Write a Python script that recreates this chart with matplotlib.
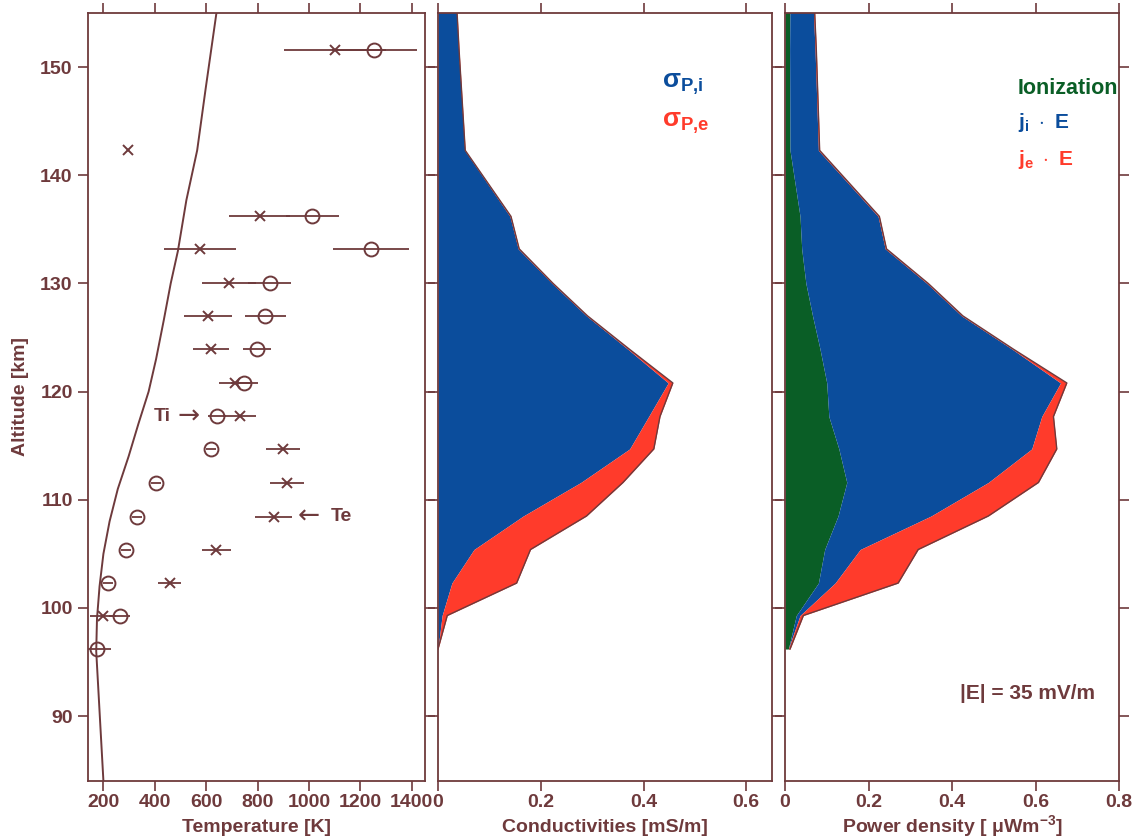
import matplotlib
matplotlib.use("Agg")
import matplotlib.pyplot as plt
import numpy as np

plt.rcParams['font.family'] = ['Liberation Sans', 'DejaVu Sans']
plt.rcParams['font.weight'] = 'bold'
plt.rcParams['mathtext.fontset'] = 'custom'
plt.rcParams['mathtext.rm'] = 'Liberation Sans:bold'
plt.rcParams['mathtext.bf'] = 'Liberation Sans:bold'
plt.rcParams['mathtext.it'] = 'Liberation Sans:bold'
plt.rcParams['mathtext.sf'] = 'Liberation Sans:bold'

# ---------------- data ----------------
# model temperature profile
model_alt = [84, 90, 96, 99, 102, 105, 108, 111, 114, 117, 120, 123, 126.6, 130, 133, 137.7, 142.3, 148, 155]
model_T = [200, 186, 172, 175, 185, 200, 224, 256, 298, 336, 376, 405, 435, 462, 490, 523, 565, 598, 640]

# electron temperature (crosses)
te_alt = [151.6, 142.3, 136.2, 133.15, 130.0, 127.0, 123.9, 120.8, 117.7, 114.7, 111.55, 108.45, 105.4, 102.3, 99.3]
te_val = [1102, 296, 808, 577, 690, 607, 620, 714, 730, 899, 914, 863, 640, 458, 199]
te_err = [200, 0, 120, 140, 105, 95, 70, 63, 65, 67, 67, 72, 58, 45, 50]

# ion temperature (circles)
ti_alt = [151.6, 136.2, 133.15, 130.0, 127.0, 123.9, 120.8, 117.7, 114.7, 111.55, 108.45, 105.4, 102.3, 99.3, 96.2]
ti_val = [1254, 1014, 1240, 847, 831, 798, 749, 642, 620, 405, 331, 287, 219, 263, 175]
ti_err = [165, 105, 148, 85, 78, 55, 53, 35, 20, 20, 20, 20, 20, 40, 55]

# profile altitudes for conductivity / power density
prof_alt = [96.2, 99.3, 102.3, 105.4, 108.5, 111.6, 114.7, 117.7, 120.8, 123.9, 127.0, 130.0, 133.2, 136.2, 142.3, 151.6, 156.0]
sigma_pi = [0.0, 0.008, 0.027, 0.070, 0.166, 0.278, 0.373, 0.410, 0.448, 0.370, 0.289, 0.222, 0.156, 0.140, 0.052, 0.040, 0.035]
sigma_pe = [0.0, 0.010, 0.126, 0.110, 0.123, 0.082, 0.047, 0.022, 0.009, 0.003, 0.002, 0.002, 0.002, 0.002, 0.001, 0.001, 0.001]

ionization = [0.008, 0.027, 0.080, 0.095, 0.127, 0.148, 0.129, 0.105, 0.100, 0.084, 0.066, 0.050, 0.040, 0.036, 0.012, 0.011, 0.012]
joule_i = [0.000, 0.009, 0.040, 0.085, 0.223, 0.339, 0.462, 0.510, 0.560, 0.461, 0.357, 0.290, 0.200, 0.187, 0.068, 0.061, 0.055]
joule_e = [0.004, 0.008, 0.151, 0.139, 0.137, 0.120, 0.060, 0.028, 0.015, 0.003, 0.003, 0.003, 0.003, 0.003, 0.003, 0.003, 0.003]

# ---------------- style ----------------
FRAME = '#6e3a3c'
TXT = '#6e3a3c'
BLUE = '#0b4d9c'
RED = '#ff3b2b'
GREEN = '#0a5e26'
FS = 14

fig = plt.figure(figsize=(11.42, 8.4), dpi=100)
W, H = 1142, 840
def rect(x0, x1, y0=13, y1=781):
    return [x0 / W, (H - y1) / H, (x1 - x0) / W, (y1 - y0) / H]

ax1 = fig.add_axes(rect(88, 425))
ax2 = fig.add_axes(rect(438, 772))
ax3 = fig.add_axes(rect(785, 1119))

for ax in (ax1, ax2, ax3):
    ax.set_ylim(84, 155)
    ax.set_yticks([90, 100, 110, 120, 130, 140, 150])
    for s in ax.spines.values():
        s.set_color(FRAME)
        s.set_linewidth(1.3)
    ax.tick_params(axis='both', which='both', direction='out', length=7.5, width=1.2,
                   color=FRAME, labelcolor=TXT, labelsize=FS, top=True, right=True)
    ax.tick_params(axis='x', pad=2)

LABEL_Y = 1 - 832 / H  # baseline of the x-axis titles

# ---- panel 1: temperatures ----
ax1.set_xlim(140, 1452)
ax1.set_xticks([200, 400, 600, 800, 1000, 1200, 1400])
ax1.plot(model_T, model_alt, color=FRAME, lw=1.4)
ax1.errorbar(te_val, te_alt, xerr=te_err, fmt='x', color=FRAME, ms=7, mew=1.4,
             elinewidth=1.3, capsize=0)
ax1.errorbar(ti_val, ti_alt, xerr=ti_err, fmt='o', mfc='none', mec=FRAME, color=FRAME,
             ms=10, mew=1.4, elinewidth=1.3, capsize=0)
ax1.text(395, 117.7, 'Ti', color=TXT, fontsize=FS, fontweight='bold', ha='left', va='center')
ax1.text(490, 117.7, '\u2192', color=TXT, fontsize=19, fontweight='normal',
         family='DejaVu Sans', ha='left', va='center')
ax1.text(955, 108.45, '\u2190', color=TXT, fontsize=19, fontweight='normal',
         family='DejaVu Sans', ha='left', va='center')
ax1.text(1087, 108.45, 'Te', color=TXT, fontsize=FS, fontweight='bold', ha='left', va='center')
ax1.set_ylabel('Altitude [km]', color=TXT, fontsize=FS, fontweight='bold', labelpad=8)
fig.text((88 + 425) / 2 / W, LABEL_Y, 'Temperature [K]', color=TXT, fontsize=FS,
         fontweight='bold', ha='center', va='baseline')
for lab in ax1.get_xticklabels() + ax1.get_yticklabels():
    lab.set_fontweight('bold')

# ---- panel 2: conductivities ----
ax2.set_xlim(0, 0.65)
ax2.set_xticks([0, 0.2, 0.4, 0.6])
ax2.set_xticklabels(['0', '0.2', '0.4', '0.6'])
ax2.set_yticklabels([])
pi = np.array(sigma_pi)
tot = pi + np.array(sigma_pe)
ax2.fill_betweenx(prof_alt, 0, pi, color=BLUE, lw=0)
ax2.fill_betweenx(prof_alt, pi, tot, color=RED, lw=0)
ax2.plot(tot, prof_alt, color=FRAME, lw=1.0)
ax2.text(0.435, 148.4, r'$\sigma_{\mathbf{P{,}i}}$', color=BLUE, fontsize=19, ha='left', va='center')
ax2.text(0.435, 144.8, r'$\sigma_{\mathbf{P{,}e}}$', color=RED, fontsize=19, ha='left', va='center')
fig.text((438 + 772) / 2 / W, LABEL_Y, 'Conductivities [mS/m]', color=TXT, fontsize=FS,
         fontweight='bold', ha='center', va='baseline')
for lab in ax2.get_xticklabels():
    lab.set_fontweight('bold')

# ---- panel 3: power density ----
ax3.set_xlim(0, 0.8)
ax3.set_xticks([0, 0.2, 0.4, 0.6, 0.8])
ax3.set_xticklabels(['0', '0.2', '0.4', '0.6', '0.8'])
ax3.set_yticklabels([])
g = np.array(ionization)
b = g + np.array(joule_i)
r = b + np.array(joule_e)
ax3.fill_betweenx(prof_alt, 0, g, color=GREEN, lw=0)
ax3.fill_betweenx(prof_alt, g, b, color=BLUE, lw=0)
ax3.fill_betweenx(prof_alt, b, r, color=RED, lw=0)
ax3.plot(r, prof_alt, color=FRAME, lw=1.0)
ax3.text(0.557, 148.0, 'Ionization', color=GREEN, fontsize=15.5, fontweight='bold', ha='left', va='center')
ax3.text(0.557, 144.9, r'$\mathbf{j_i\ \cdot\ E}$', color=BLUE, fontsize=15, ha='left', va='center')
ax3.text(0.557, 141.5, r'$\mathbf{j_e\ \cdot\ E}$', color=RED, fontsize=15, ha='left', va='center')
ax3.text(0.418, 92.1, '|E| = 35 mV/m', color=TXT, fontsize=15, fontweight='bold', ha='left', va='center')
fig.text((785 + 1119) / 2 / W, LABEL_Y, 'Power density [ \u03bcWm$^{\\mathbf{-3}}$]', color=TXT,
         fontsize=FS, fontweight='bold', ha='center', va='baseline')
for lab in ax3.get_xticklabels():
    lab.set_fontweight('bold')

fig.savefig('out.png', dpi=100, facecolor='white')
